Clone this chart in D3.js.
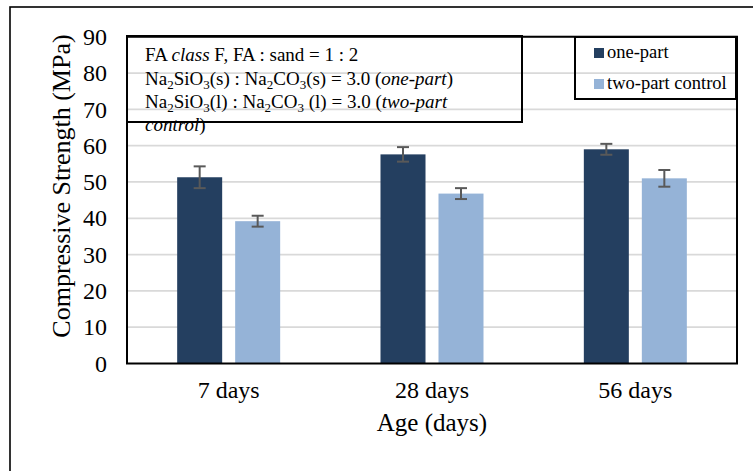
<!DOCTYPE html>
<html>
<head>
<meta charset="utf-8">
<script src="https://cdn.jsdelivr.net/npm/d3@7/dist/d3.min.js"></script>
<style>
  html, body { margin: 0; padding: 0; background: #fff; }
  svg { display: block; font-family: "Liberation Serif", "Times New Roman", serif; }
  svg text { font-family: "Liberation Serif", "Times New Roman", serif; fill: #000; }
</style>
</head>
<body>
<svg id="chart" width="753" height="471"></svg>
<script>
// Compressive strength by curing age
const categories = ["7 days", "28 days", "56 days"];
const seriesNames = ["one-part", "two-part control"];
const onePart = [51.3, 57.6, 59.0];
const onePartErr = [3.0, 2.0, 1.5];
const twoPart = [39.2, 46.8, 51.0];
const twoPartErr = [1.5, 1.5, 2.3];
const yTicks = [0, 10, 20, 30, 40, 50, 60, 70, 80, 90];
const colors = ["#243F60", "#95B3D7"];

const serif = "'Liberation Serif', 'Times New Roman', serif";
const svg = d3.select("#chart").attr("font-family", serif);
const plot = { left: 127, right: 737, top: 36.75, bottom: 363.5 };

// outer frame (extends past the right and bottom edges)
svg.append("rect")
  .attr("x", 10).attr("y", 7)
  .attr("width", 800).attr("height", 520)
  .attr("fill", "none").attr("stroke", "#000").attr("stroke-width", 1.6);

const y = d3.scaleLinear().domain([0, 90]).range([plot.bottom, plot.top]);
const x0 = d3.scaleBand().domain(categories).range([plot.left, plot.right]);
const x1 = d3.scaleBand().domain(seriesNames).range([0, x0.bandwidth()])
  .paddingInner(0.224).paddingOuter(0.865);

// gridlines
svg.append("g").selectAll("line").data(yTicks.filter(d => d > 0)).join("line")
  .attr("x1", plot.left).attr("x2", plot.right)
  .attr("y1", d => y(d)).attr("y2", d => y(d))
  .attr("stroke", "#d9d9d9").attr("stroke-width", 1.8);

// bars and error bars
const rows = categories.map((c, i) => ({
  cat: c,
  vals: [
    { s: seriesNames[0], v: onePart[i], e: onePartErr[i], color: colors[0] },
    { s: seriesNames[1], v: twoPart[i], e: twoPartErr[i], color: colors[1] }
  ]
}));

const groups = svg.append("g").selectAll("g").data(rows).join("g")
  .attr("transform", d => `translate(${x0(d.cat)},0)`);

groups.selectAll("rect").data(d => d.vals).join("rect")
  .attr("x", d => x1(d.s)).attr("width", x1.bandwidth())
  .attr("y", d => y(d.v)).attr("height", d => y(0) - y(d.v))
  .attr("fill", d => d.color);

const cx = d => x1(d.s) + x1.bandwidth() / 2;
const eb = groups.selectAll("g.err").data(d => d.vals).join("g").attr("class", "err")
  .attr("stroke", "#595959").attr("stroke-width", 2);
eb.append("line")
  .attr("x1", cx).attr("x2", cx)
  .attr("y1", d => y(d.v + d.e)).attr("y2", d => y(d.v - d.e));
eb.append("line")
  .attr("x1", d => cx(d) - 6).attr("x2", d => cx(d) + 6)
  .attr("y1", d => y(d.v + d.e)).attr("y2", d => y(d.v + d.e));
eb.append("line")
  .attr("x1", d => cx(d) - 6).attr("x2", d => cx(d) + 6)
  .attr("y1", d => y(d.v - d.e)).attr("y2", d => y(d.v - d.e));

// axes
const yAxis = d3.axisLeft(y).tickValues(yTicks).tickSize(0).tickPadding(20);
const gy = svg.append("g").attr("transform", `translate(${plot.left},0)`).call(yAxis)
  .attr("font-family", serif).attr("font-size", 24);
gy.select(".domain").remove();
gy.selectAll("text").attr("fill", "#000");

const xAxis = d3.axisBottom(x0).tickSize(0).tickPadding(17);
const gx = svg.append("g").attr("transform", `translate(0,${plot.bottom})`).call(xAxis)
  .attr("font-family", serif).attr("font-size", 24);
gx.select(".domain").remove();
gx.selectAll("text").attr("fill", "#000");

// plot area border
svg.append("rect")
  .attr("x", plot.left).attr("y", plot.top)
  .attr("width", plot.right - plot.left).attr("height", plot.bottom - plot.top)
  .attr("fill", "none").attr("stroke", "#000").attr("stroke-width", 2);

// axis titles
svg.append("text")
  .attr("transform", `translate(70,186) rotate(-90)`)
  .attr("text-anchor", "middle").attr("font-size", 26)
  .text("Compressive Strength (MPa)");
svg.append("text")
  .attr("x", (plot.left + plot.right) / 2).attr("y", 431)
  .attr("text-anchor", "middle").attr("font-size", 25)
  .text("Age (days)");

// composition note
svg.append("rect")
  .attr("x", 127).attr("y", 36).attr("width", 395).attr("height", 86)
  .attr("fill", "none").attr("stroke", "#000").attr("stroke-width", 2);

const lines = [
  { y: 61, parts: [["FA "], ["class", "i"], [" F, FA : sand = 1 : 2"]] },
  { y: 85, parts: [["Na"], ["2", "sub"], ["SiO"], ["3", "sub"], ["(s) : Na"], ["2", "sub"], ["CO"], ["3", "sub"], ["(s) = 3.0 ("], ["one-part", "i"], [")"]] },
  { y: 108, parts: [["Na"], ["2", "sub"], ["SiO"], ["3", "sub"], ["(l) : Na"], ["2", "sub"], ["CO"], ["3", "sub"], [" (l) = 3.0 ("], ["two-part", "i"]] },
  { y: 131, parts: [["control", "i"], [")"]] }
];
lines.forEach(line => {
  const t = svg.append("text").attr("x", 145).attr("y", line.y).attr("font-size", 19);
  let prevSub = false;
  line.parts.forEach(([str, style]) => {
    const sp = t.append("tspan").text(str);
    if (style === "i") sp.attr("font-style", "italic");
    if (style === "sub") { sp.attr("font-size", 13).attr("dy", 4); prevSub = true; }
    else { if (prevSub) sp.attr("dy", -4); prevSub = false; }
  });
});

// legend
svg.append("rect")
  .attr("x", 575).attr("y", 37).attr("width", 161).attr("height", 62)
  .attr("fill", "none").attr("stroke", "#000").attr("stroke-width", 2);
const leg = svg.append("g").selectAll("g").data(seriesNames).join("g")
  .attr("transform", (d, i) => `translate(594,${58 + i * 31})`);
leg.append("rect").attr("x", 0).attr("y", -10).attr("width", 10).attr("height", 10)
  .attr("fill", (d, i) => colors[i]);
leg.append("text").attr("x", 13).attr("y", 0).attr("font-size", 18.5).text(d => d);
</script>
</body>
</html>
